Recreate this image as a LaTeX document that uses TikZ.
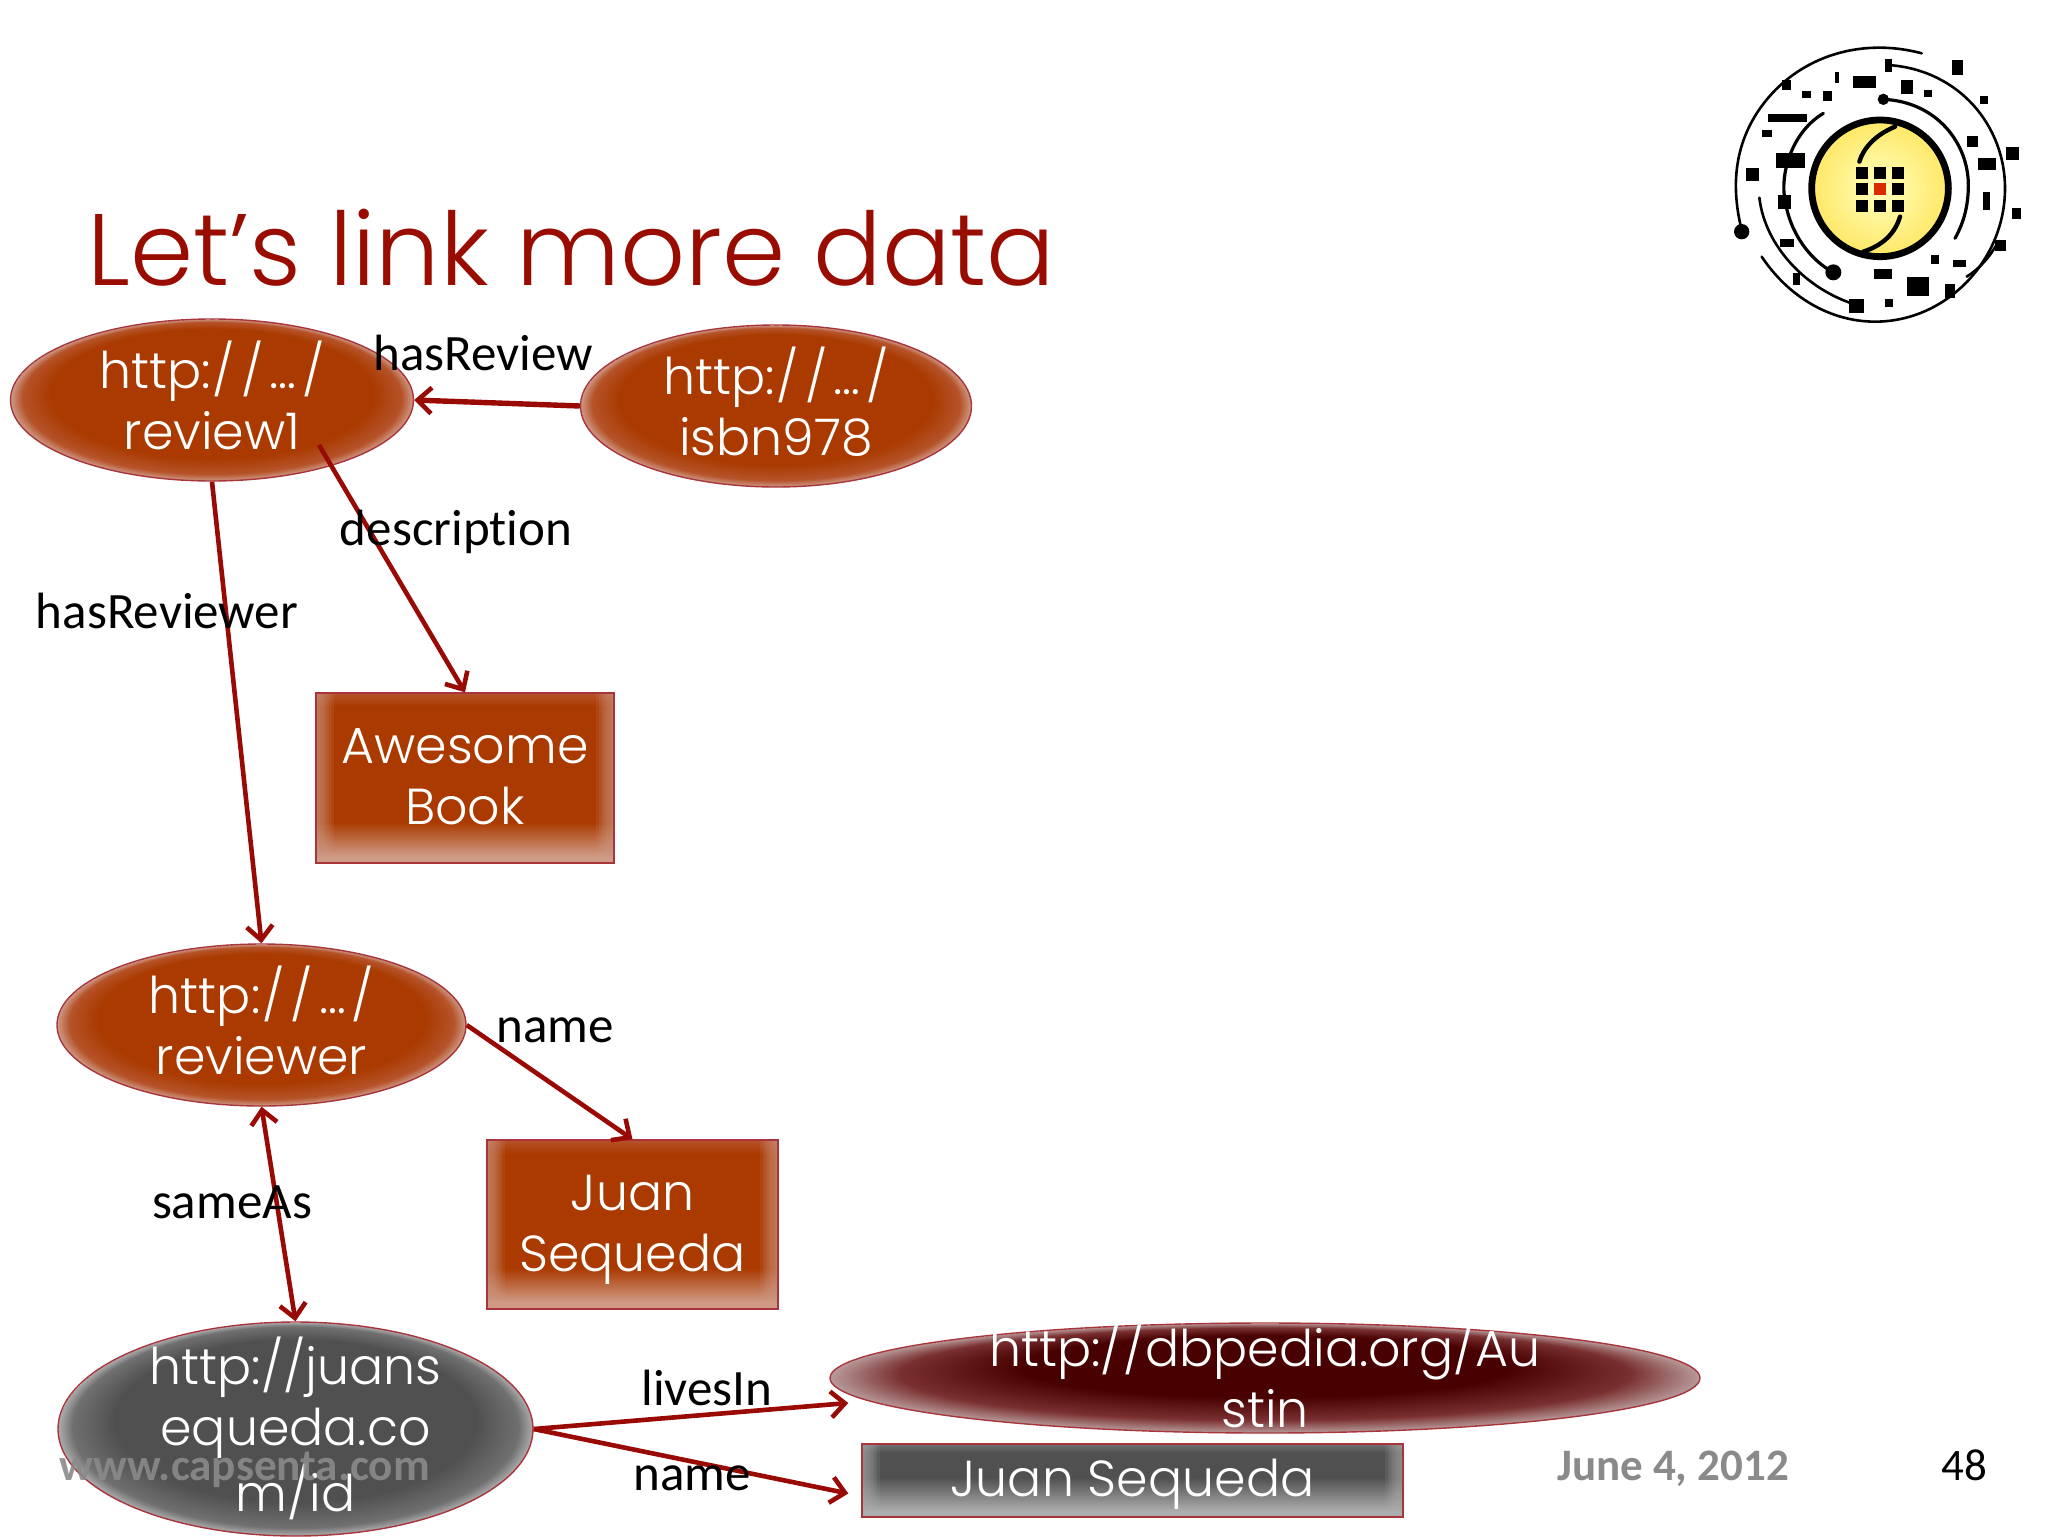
\documentclass[tikz,border=0pt]{standalone}
\usepackage{fontspec}
\usetikzlibrary{arrows.meta,shapes.geometric}
\setmainfont{Poppins}[UprightFont=* Light]
\newfontfamily\labfont{Carlito}[Ligatures=NoCommon]
\definecolor{titlered}{HTML}{990C00}
\definecolor{linkred}{HTML}{990A05}
\definecolor{rust}{HTML}{AA3A00}
\definecolor{rustmid}{HTML}{B5532A}
\definecolor{rustlight}{HTML}{CF9A86}
\definecolor{wine}{HTML}{480000}
\definecolor{winemid}{HTML}{7A3030}
\definecolor{winelight}{HTML}{B89A9A}
\definecolor{slate}{HTML}{505050}
\definecolor{slatemid}{HTML}{707070}
\definecolor{slatelight}{HTML}{ADADAD}
\definecolor{rim}{HTML}{A8343C}
\definecolor{datecol}{HTML}{8A8A8A}
\pgfdeclareradialshading{rustell}{\pgfpoint{0bp}{10bp}}{color(0bp)=(rust);color(20bp)=(rust);color(23.5bp)=(rustmid);color(25bp)=(rustlight)}
\pgfdeclareradialshading{wineell}{\pgfpoint{0bp}{12bp}}{color(0bp)=(wine);color(14bp)=(wine);color(21bp)=(winemid);color(25bp)=(winelight)}
\pgfdeclareradialshading{slateell}{\pgfpoint{0bp}{8bp}}{color(0bp)=(slate);color(19bp)=(slate);color(23.5bp)=(slatemid);color(25bp)=(slatelight)}
\pgfdeclareverticalshading{rustbox}{100bp}{color(0bp)=(rustlight);color(27bp)=(rustlight);color(37bp)=(rust);color(71bp)=(rust);color(75bp)=(rustmid);color(100bp)=(rustmid)}
\pgfdeclareverticalshading{slatebox}{100bp}{color(0bp)=(slatelight);color(29bp)=(slatelight);color(52bp)=(slate);color(69bp)=(slate);color(75bp)=(slatemid);color(100bp)=(slatemid)}
\newcommand{\zb}[1]{\raisebox{-16.5pt}{\makebox[0pt]{\smash{\begin{tabular}[c]{@{}c@{}}#1\end{tabular}}}}}
\newcommand{\uri}{http:\kern1pt/\kern3pt/\kern3pt…\kern3pt/}
\tikzset{
  x=0.5pt,y=-0.5pt,
  body/.style={font=\fontsize{25.3}{30.5}\selectfont,text=white,inner sep=0pt,draw=rim,line width=0.7pt},
  ell/.style={body,ellipse},
  rustE/.style={ell,shading=rustell},
  wineE/.style={ell,shading=wineell},
  slateE/.style={ell,shading=slateell},
  sided/.style={path picture={
    \foreach \w in {1,...,8}{
      \fill[#1,opacity=.13] (path picture bounding box.north west) rectangle ([xshift=\w*1.1pt]path picture bounding box.south west);
      \fill[#1,opacity=.13] ([xshift=-\w*1.1pt]path picture bounding box.north east) rectangle (path picture bounding box.south east);}}},
  rustR/.style={body,rectangle,shading=rustbox,sided=rustlight},
  slateR/.style={body,rectangle,shading=slatebox,sided=slatelight},
  lab/.style={font=\labfont\fontsize{25.5}{30}\selectfont,text=black,anchor=base,inner sep=0pt},
  link/.style={draw=linkred,line width=2.3pt,-{Straight Barb[length=7pt,width=13pt,line width=2.3pt]}},
  both/.style={draw=linkred,line width=2.3pt,{Straight Barb[length=7pt,width=13pt,line width=2.3pt]}-{Straight Barb[length=7pt,width=13pt,line width=2.3pt]}},
  orb/.style={draw=black,line width=1.3pt,line cap=round,fill=none},
}
\begin{document}
\begin{tikzpicture}
\useasboundingbox (0,0) rectangle (2048,1536);
\fill[white] (0,0) rectangle (2048,1536);

% title and footer
\node[anchor=base west,inner sep=0pt,text=titlered,font=\fontsize{50.8}{60}\selectfont] (title) at (87,285) {Let’s link more data};
\node[anchor=base,inner sep=0pt,text=datecol,font=\labfont\bfseries\fontsize{22.5}{26}\selectfont] (date) at (1673,1480) {June 4, 2012};
\node[anchor=base,inner sep=0pt,text=black,font=\labfont\fontsize{22.5}{26}\selectfont] (page) at (1964,1480) {48};

% nodes
\node[rustE,minimum width=201.5pt,minimum height=81pt] (review) at (212,400) {\zb{\uri\\review1}};
\node[rustE,minimum width=195.5pt,minimum height=81pt] (isbn) at (776,406) {\zb{\uri\\isbn978}};
\node[rustR,minimum width=149pt,minimum height=85pt] (book) at (465,778) {\zb{Awesome\\Book}};
\node[rustE,minimum width=204.5pt,minimum height=81pt] (reviewer) at (261.5,1025) {\zb{\uri\\reviewer}};
\node[rustR,minimum width=145.5pt,minimum height=84.5pt] (juan) at (632.5,1224.5) {\zb{Juan\\Sequeda}};
\node[slateE,minimum width=237.5pt,minimum height=107pt] (idn) at (295.5,1429) {\zb{http://juans\\equeda.co\\m/id}};
\node[wineE,minimum width=435pt,minimum height=55pt] (db) at (1265,1378) {\zb{http://dbpedia.org/Au\\stin}};
\node[slateR,minimum width=270.5pt,minimum height=36.5pt] (juan2) at (1132.5,1480.5) {\zb{Juan Sequeda}};

% connectors
\coordinate (descstart) at (319,445);
\coordinate (dbtip) at ([xshift=9.5pt,yshift=-12.5pt]db.west);
\coordinate (juantip) at ([xshift=-6.5pt,yshift=-6.5pt]juan2.west);
\draw[link,line width=2.7pt] (isbn.west) -- (review.east);
\draw[link] (descstart) -- (book.north);
\draw[link] (review.south) -- (reviewer.north);
\draw[link] (reviewer.east) -- (juan.north);
\draw[both] (reviewer.south) -- (idn.north);
\draw[link] (idn.east) -- (dbtip);
\draw[link] (idn.east) -- (juantip);

% edge labels
\node[lab] (l1) at (483,370) {hasReview};
\node[lab] (l2) at (456,545) {description};
\node[lab] (l3) at (167,628) {hasReviewer};
\node[lab] (l4) at (555,1042) {name};
\node[lab] (l5) at (232,1218) {sameAs};
\node[lab] (l6) at (707,1405) {livesIn};
\node[lab] (l7) at (692,1490) {name};

% watermark
\node[anchor=base,inner sep=0pt,text=datecol,opacity=.9,font=\labfont\bfseries\fontsize{22.6}{26}\selectfont] (mark) at (245,1480) {www.capsenta.com};

% logo
\begin{scope}[shift={(1700,20)},scale=1/3]
  \shade[inner color=yellow!25!white,outer color=yellow!70!orange!60!white,draw=black,line width=3.4pt] (540,505) circle (205);
  \draw[black,line width=2.2pt,line cap=round] (585,320) .. controls (525,345) and (490,385) .. (478,425);
  \draw[black,line width=2.2pt,line cap=round] (600,590) .. controls (585,640) and (550,675) .. (490,695);
  \foreach \cx in {485,540,595}{\foreach \cy in {458,508,558}{\fill[black] (\cx-18,\cy-18) rectangle (\cx+18,\cy+18);}}
  \fill[red!60!orange!85!black] (522,490) rectangle (558,526);
  \draw[orb] (665,100) .. controls (480,50) and (280,110) .. (170,280) .. controls (100,390) and (95,510) .. (125,630);
  \fill[black] (125,635) circle (23);
  \draw[orb] (565,135) .. controls (780,150) and (915,320) .. (915,505) .. controls (915,720) and (740,905) .. (525,905) .. controls (390,905) and (265,830) .. (185,710);
  \draw[orb] (800,770) .. controls (840,745) and (870,710) .. (895,665);
  \draw[orb,line width=1.6pt] (550,238) .. controls (710,245) and (805,370) .. (805,495) .. controls (805,560) and (790,610) .. (765,655);
  \fill[black] (550,238) circle (17);
  \draw[orb,line width=1.6pt] (370,280) .. controls (270,340) and (240,470) .. (255,540) .. controls (270,640) and (330,720) .. (400,757);
  \fill[black] (400,757) circle (24);
  \draw[orb] (178,533) .. controls (195,680) and (320,810) .. (470,855);
  \foreach \ax/\ay/\bx/\by in {755/120/790/165,460/168/528/205,602/180/640/222,405/155/417/188,305/212/332/235,368/213/395/243,672/210/695/232,840/228/863/252,245/180/272/210,205/282/322/305,187/330/215/352,228/398/315/443,137/445/177/482,233/525/272/566,240/657/283/680,278/760/300/795,447/838/492/878,522/747/577/778,620/770/688/828,555/838/580/862,693/705/718/733,760/720/798/742,735/792/765/835,800/348/835/380,835/415/887/450,918/380/958/420,848/517/870/570,935/565/962/596,885/660/918/692,555/118/575/155}{
    \fill[black] (\ax,\ay) rectangle (\bx,\by);}
\end{scope}
\end{tikzpicture}
\end{document}
